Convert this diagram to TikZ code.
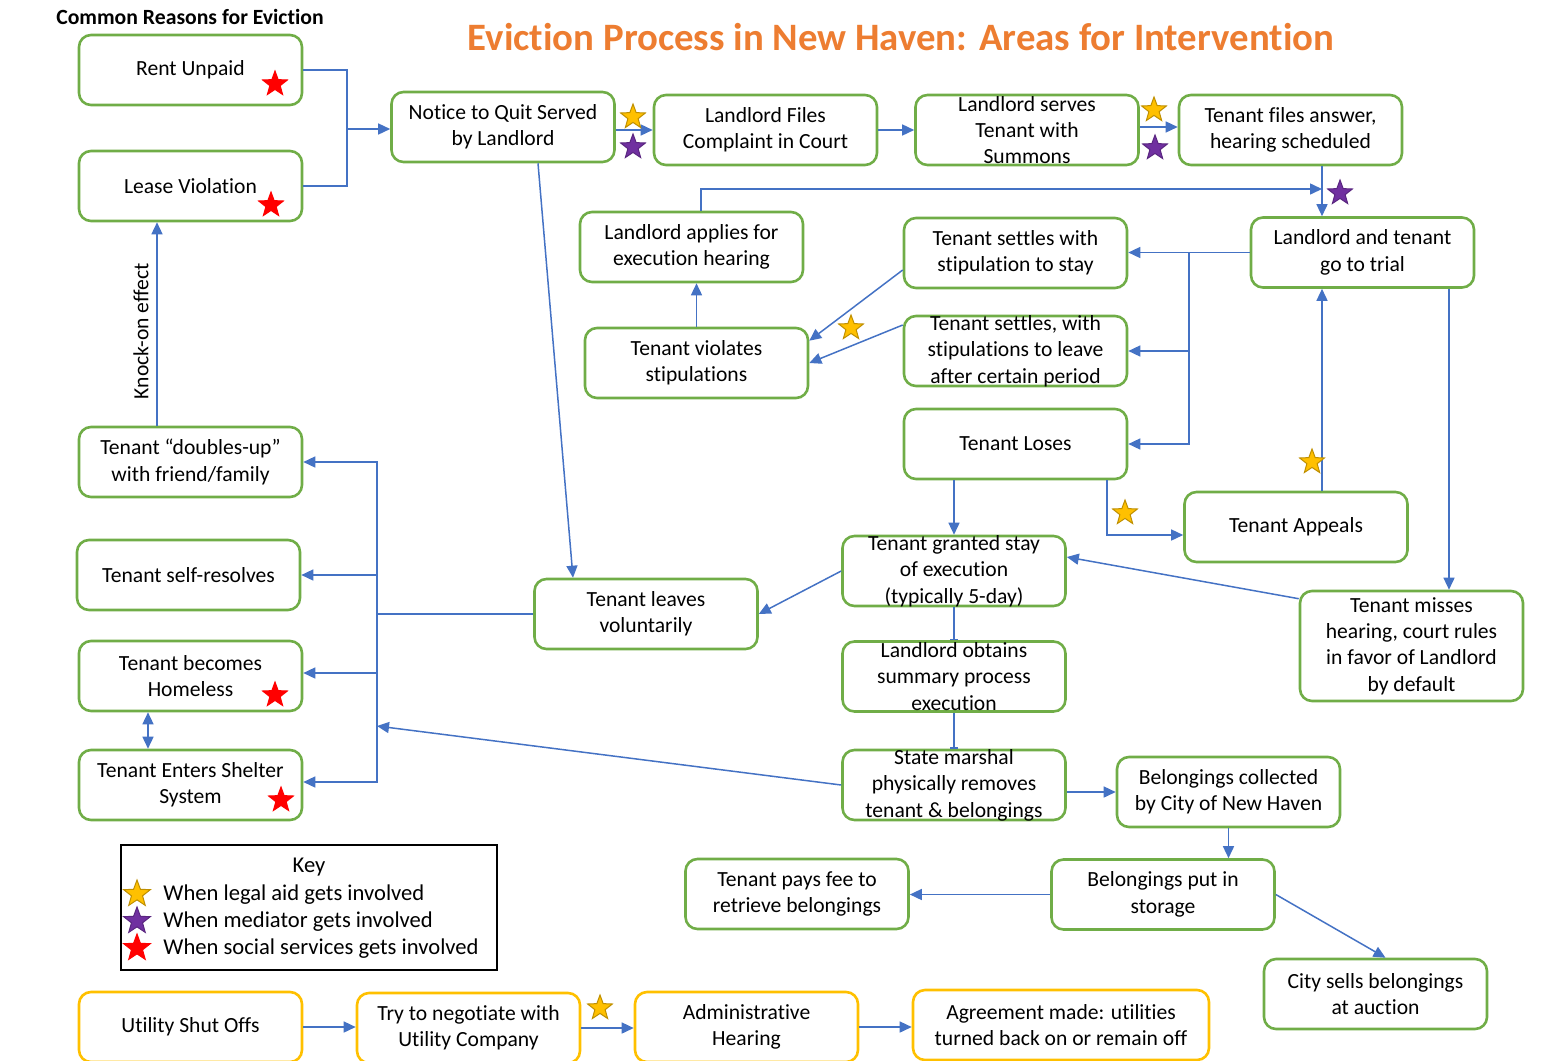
\documentclass[tikz,border=0pt]{standalone}
\usepackage{fontspec}
\setmainfont{Carlito}[Ligatures=NoCommon]
\usetikzlibrary{shapes.geometric,arrows.meta,calc}
\definecolor{gbox}{HTML}{70AD47}
\definecolor{ybox}{HTML}{FFC000}
\definecolor{conn}{HTML}{4472C4}
\definecolor{ttl}{HTML}{ED7D31}
\definecolor{sgold}{HTML}{FFC000}
\definecolor{sgoldd}{HTML}{BF8F00}
\definecolor{spurp}{HTML}{7030A0}
\definecolor{sred}{HTML}{FF0000}
\begin{document}
\begin{tikzpicture}[x=0.5pt,y=-0.5pt,
 box/.style={draw=gbox, line width=1.3pt, rounded corners=6pt, minimum width=111.5pt, minimum height=35pt, align=center, font=\fontsize{10.8}{13.2}\selectfont, inner xsep=2pt, inner ysep=2pt},
 ubox/.style={box, draw=ybox},
 tight/.style={inner ysep=-2pt},
 line/.style={draw=conn, line width=0.75pt},
 arr/.style={line, -{Triangle[length=6pt,width=5.5pt]}},
 arr2/.style={line, {Triangle[length=6pt,width=5.5pt]}-{Triangle[length=6pt,width=5.5pt]}},
 bar/.style={line, -{Bar[width=4pt]}},
 starbase/.style={star, star points=5, star point ratio=2.4, minimum size=13pt, inner sep=0pt, outer sep=0pt, line width=0.5pt},
 gstar/.style={starbase, fill=sgold, draw=sgoldd},
 pstar/.style={starbase, fill=spurp, draw=spurp!80!black},
 rstar/.style={starbase, fill=sred, draw=sred},
 keyfont/.style={font=\fontsize{11.3}{13.7}\selectfont},
]
\useasboundingbox (0,0) rectangle (1545,1060);

% titles
\node[font=\fontsize{19.4}{23}\selectfont\bfseries, text=ttl] (title) at (901,37) {Eviction Process in New Haven: Areas for Intervention};
\node[font=\fontsize{10.85}{13}\selectfont\bfseries] (hdr) at (190,17) {Common Reasons for Eviction};

% boxes
\node[box] (rent) at (190.5,70) {Rent Unpaid};
\node[box] (lease) at (190.5,186) {Lease Violation};
\node[box] (notice) at (503,127) {Notice to Quit Served\\by Landlord};
\node[box] (files) at (765.5,130) {Landlord Files\\Complaint in Court};
\node[box,tight] (serves) at (1027,130) {Landlord serves\\Tenant with\\Summons};
\node[box] (answer) at (1290.5,130) {Tenant files answer,\\hearing scheduled};
\node[box] (applies) at (691.5,247) {Landlord applies for\\execution hearing};
\node[box] (settlestay) at (1015.5,253) {Tenant settles with\\stipulation to stay};
\node[box] (trial) at (1362.5,252.5) {Landlord and tenant\\go to trial};
\node[box] (violates) at (696.5,363) {Tenant violates\\stipulations};
\node[box,tight] (settleleave) at (1015.5,351) {Tenant settles, with\\stipulations to leave\\after certain period};
\node[box] (loses) at (1015.5,444) {Tenant Loses};
\node[box] (appeals) at (1296,527) {Tenant Appeals};
\node[box] (doubles) at (190.5,462) {Tenant “doubles-up”\\with friend/family};
\node[box] (selfres) at (188.5,575) {Tenant self-resolves};
\node[box] (leaves) at (646,614) {Tenant leaves\\voluntarily};
\node[box,tight] (stay) at (954,571) {Tenant granted stay\\of execution\\(typically 5-day)};
\node[box, minimum height=55pt] (misses) at (1411.5,646) {Tenant misses\\hearing, court rules\\in favor of Landlord\\by default};
\node[box] (homeless) at (190.5,676) {Tenant becomes\\Homeless};
\node[box,tight] (obtains) at (954,676.5) {Landlord obtains\\summary process\\execution};
\node[box] (shelter) at (190.5,785) {Tenant Enters Shelter\\System};
\node[box,tight] (marshal) at (954,785) {State marshal\\physically removes\\tenant \& belongings};
\node[box] (collected) at (1228.5,792) {Belongings collected\\by City of New Haven};
\node[box] (pays) at (797,894) {Tenant pays fee to\\retrieve belongings};
\node[box] (storage) at (1163,894.5) {Belongings put in\\storage};
\node[box] (sells) at (1375.5,994) {City sells belongings\\at auction};
\node[ubox] (utility) at (190.5,1027) {Utility Shut Offs};
\node[ubox] (negotiate) at (468.5,1028) {Try to negotiate with\\Utility Company};
\node[ubox] (admin) at (746.5,1027) {Administrative\\Hearing};
\node[ubox, minimum width=148pt] (agreement) at (1061,1025) {Agreement made: utilities\\turned back on or remain off};

% key
\node[draw=black, line width=1pt, minimum width=188pt, minimum height=62.5pt, inner sep=0pt] (key) at (309,907.5) {};
\node[keyfont] (keyt) at (309,867) {Key};
\node[keyfont, anchor=west, inner sep=0pt] (k1) at (163,895) {When legal aid gets involved};
\node[keyfont, anchor=west, inner sep=0pt] (k2) at (163,922) {When mediator gets involved};
\node[keyfont, anchor=west, inner sep=0pt] (k3) at (163,949) {When social services gets involved};
\node[gstar, minimum size=14pt] (ks1) at (137,894) {};
\node[pstar, minimum size=14pt] (ks2) at (137,921) {};
\node[rstar, minimum size=14pt] (ks3) at (137,948) {};

% knock-on label
\node[rotate=90, font=\fontsize{10.8}{13.2}\selectfont] (knock) at (141,331) {Knock-on effect};

% connectors
\coordinate (j1) at (347,129);
\draw[line] (rent.east) -| (j1) |- (lease.east);
\draw[arr] (j1) -- (notice.west |- j1);
\draw[arr] (notice.east |- files.west) -- (files.west);
\draw[arr] (files.east) -- (serves.west);
\draw[arr] ([yshift=1.5pt]serves.east) -- ([yshift=1.5pt]answer.west);
\coordinate (vx) at (1322,189);
\draw[arr] (answer.south -| vx) -- (trial.north -| vx);
\coordinate (cA) at (701,189);
\draw[arr] (applies.north -| cA) -- (cA) -- (vx);
\draw[arr] (violates.north) -- (violates.north |- applies.south);
\coordinate (b1) at (1189,253);
\draw[arr] (trial.west) -- (trial.west -| settlestay.east);
\draw[arr] (b1) |- (settleleave.east);
\draw[arr] (b1) |- (loses.east);
\draw[arr] ([yshift=-8.5pt]settlestay.west) -- ([yshift=-7pt]violates.north east);
\draw[arr] ([yshift=13pt]settleleave.west) -- (violates.east);
\draw[arr] (loses.south -| stay.north) -- (stay.north);
\coordinate (c2) at (1107,535);
\draw[arr] (loses.south -| c2) |- (appeals.west |- c2);
\draw[arr] (appeals.north -| vx) -- (trial.south -| vx);
\coordinate (c4) at (1449,295);
\draw[arr] (trial.south -| c4) -- (misses.north -| c4);
\draw[arr] ([yshift=-4.5pt]misses.north west) -- ([yshift=7pt]stay.east);
\draw[arr] ([xshift=17.5pt]notice.south) -- ([xshift=-36.5pt]leaves.north);
\draw[arr] (stay.west) -- (leaves.east);
\coordinate (b2) at (377,614);
\draw[line] (leaves.west) -- (b2);
\draw[arr] (b2) |- (doubles.east);
\draw[arr] (b2) |- (selfres.east);
\draw[arr] (b2) |- ([yshift=1.5pt]homeless.east);
\draw[arr] (b2) |- ([yshift=1.5pt]shelter.east);
\coordinate (b3) at (377,726);
\draw[arr] (marshal.west) -- (b3);
\coordinate (c5) at (148,730);
\draw[arr2] (homeless.south -| c5) -- (shelter.north -| c5);
\draw[arr] ([xshift=-16.75pt]doubles.north) -- ([xshift=-16.75pt]lease.south);
\draw[bar] (stay.south) -- (obtains.north);
\draw[bar] (obtains.south) -- (marshal.north);
\draw[arr] (marshal.east |- collected.west) -- (collected.west);
\draw[arr] (collected.south) -- (collected.south |- storage.north);
\draw[arr] (storage.west) -- (storage.west -| pays.east);
\draw[arr] (storage.east) -- ([xshift=5pt]sells.north);
\draw[arr] (utility.east) -- (utility.east -| negotiate.west);
\draw[arr] (negotiate.east) -- (negotiate.east -| admin.west);
\draw[arr] (admin.east) -- (admin.east -| agreement.west);

% stars
\node[rstar] (s1) at (275,84) {};
\node[rstar] (s2) at (271,205) {};
\node[gstar] (s3) at (633,117) {};
\node[pstar] (s4) at (633,147) {};
\node[gstar] (s5) at (1154,110) {};
\node[pstar] (s6) at (1155,148) {};
\node[pstar] (s7) at (1340,193) {};
\node[gstar] (s8) at (851,328) {};
\node[gstar] (s9) at (1125,513) {};
\node[gstar] (s10) at (1312,462) {};
\node[rstar] (s11) at (275,695) {};
\node[rstar] (s12) at (281,800) {};
\node[gstar] (s13) at (600,1008) {};
\end{tikzpicture}
\end{document}
